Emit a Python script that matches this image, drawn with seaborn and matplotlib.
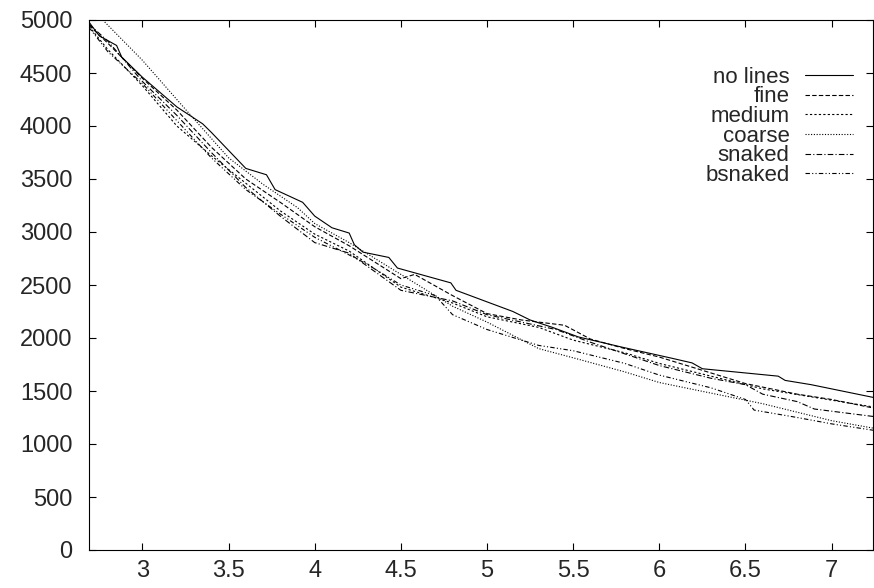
import numpy as np
import pandas as pd
import matplotlib
matplotlib.use("Agg")
import matplotlib.pyplot as plt
import seaborn as sns

series_names = ["no lines", "fine", "medium", "coarse", "snaked", "bsnaked"]

x_nolines = [2.69, 2.75, 2.85, 2.88, 3.0, 3.05, 3.2, 3.35, 3.4, 3.6, 3.72, 3.77, 3.93, 4.0, 4.10,
             4.20, 4.23, 4.28, 4.43, 4.48, 4.79, 4.82, 5.15, 5.25, 5.38, 5.53, 5.78, 6.07, 6.19,
             6.25, 6.69, 6.73, 6.88, 7.24]
y_nolines = [4980, 4850, 4760, 4650, 4460, 4390, 4180, 4020, 3940, 3600, 3540, 3400, 3280, 3150,
             3040, 2990, 2880, 2810, 2760, 2660, 2520, 2450, 2250, 2170, 2100, 2010, 1915, 1810,
             1765, 1710, 1640, 1600, 1560, 1440]

x_fine = [2.69, 2.8, 3.0, 3.2, 3.4, 3.6, 3.8, 4.0, 4.2, 4.5, 4.58, 4.8, 5.0, 5.2, 5.45, 5.6, 5.8,
          6.0, 6.2, 6.5, 6.8, 7.0, 7.24]
y_fine = [4950, 4780, 4450, 4150, 3800, 3500, 3280, 3050, 2870, 2560, 2600, 2400, 2230, 2170,
          2120, 1990, 1900, 1820, 1720, 1570, 1470, 1420, 1340]

x_medium = [2.69, 2.8, 3.0, 3.2, 3.4, 3.6, 3.8, 4.0, 4.2, 4.5, 4.8, 5.0, 5.3, 5.5, 5.8, 6.0, 6.3,
            6.6, 6.9, 7.24]
y_medium = [4940, 4720, 4380, 4000, 3720, 3460, 3200, 2980, 2820, 2480, 2330, 2200, 2100, 1980,
            1860, 1760, 1640, 1520, 1440, 1350]

x_coarse = [2.77, 3.0, 3.27, 3.5, 3.7, 3.9, 4.0, 4.2, 4.5, 4.8, 5.0, 5.3, 5.53, 5.8, 6.0, 6.3,
            6.6, 6.8, 7.0, 7.24]
y_coarse = [5000, 4620, 4120, 3700, 3450, 3230, 3080, 2900, 2600, 2300, 2150, 1900, 1800, 1680,
            1580, 1480, 1380, 1300, 1220, 1150]

x_snaked = [2.69, 2.8, 3.0, 3.2, 3.4, 3.6, 3.8, 4.0, 4.2, 4.5, 4.8, 5.0, 5.2, 5.4, 5.6, 5.8, 6.0,
            6.3, 6.5, 6.6, 6.8, 6.9, 7.24]
y_snaked = [4960, 4800, 4420, 4100, 3750, 3420, 3150, 2900, 2800, 2450, 2350, 2220, 2150, 2080,
            1960, 1850, 1740, 1620, 1560, 1470, 1400, 1330, 1260]

x_bsnaked = [2.69, 2.8, 3.0, 3.2, 3.4, 3.6, 3.8, 4.0, 4.3, 4.5, 4.7, 4.8, 5.0, 5.3, 5.5, 5.8, 6.0,
             6.3, 6.5, 6.55, 6.8, 7.0, 7.24]
y_bsnaked = [4930, 4700, 4400, 4050, 3700, 3400, 3170, 2950, 2700, 2500, 2400, 2220, 2080, 1930,
             1880, 1760, 1650, 1530, 1420, 1320, 1250, 1190, 1130]

xtick_values = [3, 3.5, 4, 4.5, 5, 5.5, 6, 6.5, 7]
xtick_labels = ["3", "3.5", "4", "4.5", "5", "5.5", "6", "6.5", "7"]
ytick_values = list(range(0, 5001, 500))

xs = [x_nolines, x_fine, x_medium, x_coarse, x_snaked, x_bsnaked]
ys = [y_nolines, y_fine, y_medium, y_coarse, y_snaked, y_bsnaked]

frames = []
for name, xv, yv in zip(series_names, xs, ys):
    frames.append(pd.DataFrame({"x": xv, "y": yv, "series": name}))
df = pd.concat(frames, ignore_index=True)

sns.set_style("ticks")
plt.rcParams["font.family"] = ["Liberation Sans", "DejaVu Sans"]

fig = plt.figure(figsize=(8.74, 5.88), dpi=100)
ax = fig.add_axes([89 / 874, 1 - 550 / 588, (873 - 89) / 874, 530 / 588])

dash_map = {
    "no lines": "",
    "fine": (4, 2),
    "medium": (2, 2),
    "coarse": (1, 1.5),
    "snaked": (5, 2, 1, 2),
    "bsnaked": (4, 2, 1, 2, 1, 2),
}

sns.lineplot(data=df, x="x", y="y", hue="series", style="series",
             hue_order=series_names, style_order=series_names,
             palette=["black"] * 6, dashes=dash_map, linewidth=0.8,
             estimator=None, sort=False, ax=ax)

ax.set_xlim(2.69, 7.24)
ax.set_ylim(0, 5000)
ax.set_xticks(xtick_values)
ax.set_xticklabels(xtick_labels)
ax.set_yticks(ytick_values)
ax.set_xlabel("")
ax.set_ylabel("")
ax.tick_params(direction="in", length=5, width=0.8, labelsize=17, color="black",
               top=True, right=True)
ax.tick_params(axis="x", pad=7)
ax.tick_params(axis="y", pad=12)
for s in ax.spines.values():
    s.set_visible(True)
    s.set_linewidth(0.8)
    s.set_color("black")

handles, labels = ax.get_legend_handles_labels()
leg = ax.legend(handles, labels, loc="upper right", bbox_to_anchor=(0.975, 0.912),
                frameon=False, markerfirst=False, handlelength=2.16, fontsize=16,
                labelspacing=-0.06, handletextpad=0.72, borderaxespad=0, borderpad=0)
for t in leg.get_texts():
    t.set_ha("right")

fig.savefig("out.png", dpi=100)
